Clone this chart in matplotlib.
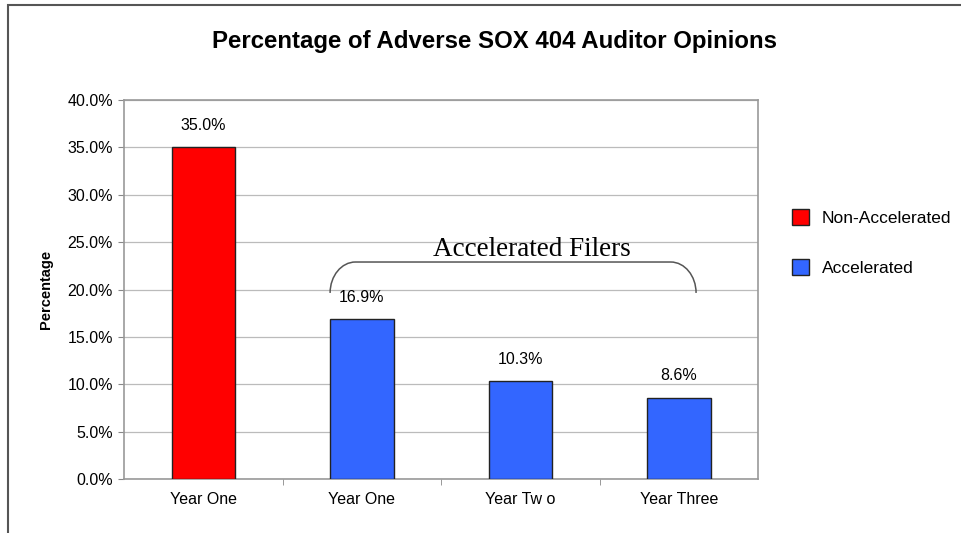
import matplotlib
matplotlib.use("Agg")
import matplotlib.pyplot as plt
import matplotlib.patches as patches
from matplotlib.path import Path
from matplotlib.ticker import FuncFormatter, MultipleLocator

# Data
categories = ["Year One", "Year One", "Year Tw o", "Year Three"]
values = [35.0, 16.9, 10.3, 8.6]
groups = ["Non-Accelerated", "Accelerated", "Accelerated", "Accelerated"]
group_colors = {"Non-Accelerated": "#FF0000", "Accelerated": "#3366FF"}

plt.rcParams['font.family'] = ['Liberation Sans', 'DejaVu Sans']

fig = plt.figure(figsize=(9.61, 5.33), dpi=100)
ax = fig.add_axes([0.129, 0.1013, 0.660, 0.711])

# Outer frame (extends off the right / bottom edge as in the original)
frame = patches.Rectangle((8 / 961, -0.05), 1.2, 1 - 5 / 533 + 0.05,
                          transform=fig.transFigure, fill=False,
                          ec='#555555', lw=1.5)
fig.patches.append(frame)

x = list(range(len(values)))
for i, (v, g) in enumerate(zip(values, groups)):
    ax.bar(i, v, width=0.4, color=group_colors[g], edgecolor='#222222',
           linewidth=1, zorder=3)
    ax.text(i, v + 1.5, f"{v:.1f}%", ha='center', va='bottom', fontsize=11.5)

ax.set_xlim(-0.5, len(values) - 0.5)
ax.set_ylim(0, 40)
ax.yaxis.set_major_locator(MultipleLocator(5))
ax.yaxis.set_major_formatter(FuncFormatter(lambda v, p: f"{v:.1f}%"))
ax.grid(axis='y', color='#BBBBBB', lw=0.9, zorder=0)
ax.set_axisbelow(True)

ax.set_xticks(x)
ax.set_xticklabels(categories, fontsize=11.5)
ax.set_xticks([i + 0.5 for i in x[:-1]], minor=True)
ax.tick_params(axis='x', which='major', length=0, pad=9)
ax.tick_params(axis='x', which='minor', length=4, color='#888888')
ax.tick_params(axis='y', length=4, color='#888888', labelsize=11.5, pad=4)

for s in ax.spines.values():
    s.set_color('#999999')
    s.set_linewidth(1.2)

ax.set_ylabel("Percentage", fontsize=10.5, fontweight='bold', labelpad=10)

fig.text(0.515, 0.923, "Percentage of Adverse SOX 404 Auditor Opinions",
         ha='center', va='center', fontsize=17.3, fontweight='bold')

# Bracket over the accelerated filers
x0, x1, yb, yt, rx = 0.325, 0.902, 0.491, 0.5726, 0.04
k = 0.552
h = yt - yb
verts = [(x0, yb), (x0, yb + k * h), (x0 + rx * (1 - k), yt), (x0 + rx, yt),
         (x1 - rx, yt),
         (x1 - rx * (1 - k), yt), (x1, yb + k * h), (x1, yb)]
codes = [Path.MOVETO, Path.CURVE4, Path.CURVE4, Path.CURVE4,
         Path.LINETO,
         Path.CURVE4, Path.CURVE4, Path.CURVE4]
ax.add_patch(patches.PathPatch(Path(verts, codes), transform=ax.transAxes,
                               fill=False, ec='#555555', lw=1.1, zorder=4))
ax.text(0.6435, 0.605, "Accelerated Filers", transform=ax.transAxes,
        ha='center', va='center', fontsize=19.5, family='Liberation Serif')

# Legend
handles = [patches.Patch(facecolor=group_colors[g], edgecolor='#222222', label=g)
           for g in ["Non-Accelerated", "Accelerated"]]
fig.legend(handles=handles, loc='center left', bbox_to_anchor=(0.808, 0.545),
           frameon=False, fontsize=12.5, handlelength=1.0, handleheight=1.0,
           labelspacing=1.9, handletextpad=0.7)

fig.savefig("out.png", dpi=100)
